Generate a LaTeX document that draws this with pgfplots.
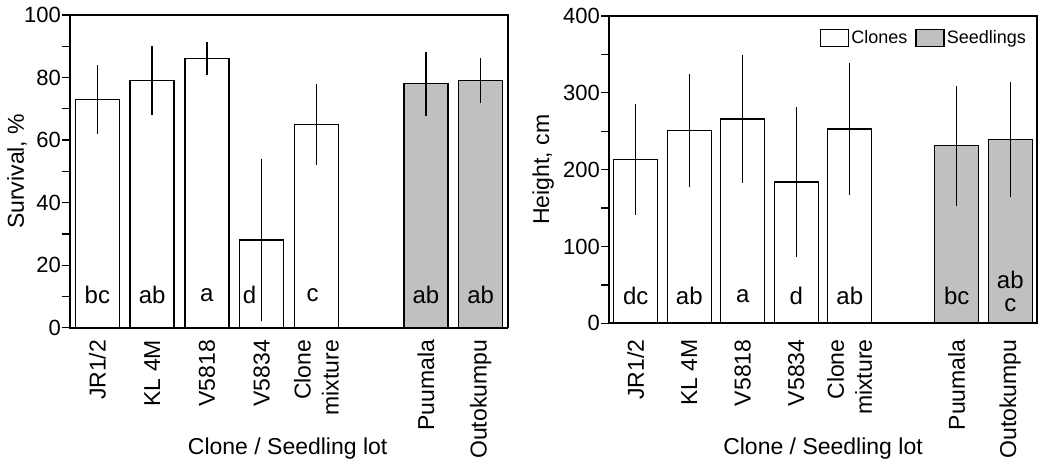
\documentclass[border=0pt]{standalone}
\usepackage{fontspec}
\setmainfont{Liberation Sans}
\usepackage{pgfplots}
\pgfplotsset{compat=1.18}
\usepackage{pgfplotstable}
\definecolor{seedgray}{RGB}{192,192,192}

\pgfplotstableread{
x y e
0 73 11
1 79 11
2 86 5.3
3 28 26
4 65 13
}\survclones
\pgfplotstableread{
x y e
6 78 10.3
7 79 7.2
}\survseed
\pgfplotstableread{
x y e
0 213 72
1 251 74
2 266 83
3 184 98
4 253 86
}\heightclones
\pgfplotstableread{
x y e
6 231 78
7 239 75
}\heightseed

\tikzset{letter/.style={font=\fontsize{24bp}{28bp}\selectfont, inner sep=0pt}}

\pgfplotsset{
  mylegend/.style={legend image code/.code={\draw[##1,line width=1.3bp] (0bp,-8.5bp) rectangle (28bp,8.5bp);}},
  mybars/.style={ybar, bar shift=0pt, bar width=44bp, draw=black, line width=1.3bp,
     error bars/y dir=both, error bars/y explicit, error bars/error mark=none,
     error bars/error bar style={line width=1.3bp, black}},
  common/.style={
    anchor=south west, scale only axis,
    xmin=-0.5, xmax=7.5, ymin=0,
    xtick={0,1,2,3,4,6,7},
    xticklabels={JR1/2, KL 4M, V5818, V5834, {Clone\\mixture}, Puumala, Outokumpu},
    x tick label style={rotate=90, anchor=east, align=right, inner sep=0pt,
       font=\fontsize{23bp}{28bp}\selectfont},
    major x tick style={draw=none},
    ytick pos=left, xtick pos=bottom,
    minor y tick num=1,
    tick align=outside, major tick length=8bp, minor tick length=8bp,
    tick style={line width=1.3bp, black},
    y tick label style={font=\fontsize{22bp}{24bp}\selectfont, inner sep=1bp},
    /pgf/number format/assume math mode=true,
    axis line style={line width=1.3bp},
    label style={font=\fontsize{23bp}{28bp}\selectfont},
    xlabel={Clone / Seedling lot},
    clip=false,
  },
}

\begin{document}
\begin{tikzpicture}
\path[use as bounding box] (0bp,0bp) rectangle (1038bp,462bp);

% Left panel: Survival
\begin{axis}[common,
  at={(70bp,134.3bp)}, width=438bp, height=312.7bp,
  ymax=100, ytick={0,20,40,60,80,100},
  xticklabel shift=4bp,
  ylabel={Survival, \%},
  ylabel style={at={(axis description cs:-0.121,0.5)}, anchor=center},
  xlabel style={at={(axis description cs:0.497,-0.385)}, anchor=center},
]
\addplot[mybars, fill=white] table[x=x, y=y, y error=e] {\survclones};
\addplot[mybars, fill=seedgray] table[x=x, y=y, y error=e] {\survseed};
\draw[line width=2bp] (rel axis cs:0,1) -- (rel axis cs:0,0) -- (rel axis cs:1,0);
\node[letter] at (axis cs:0,10.5) {bc};
\node[letter] at (axis cs:1,10.5) {ab};
\node[letter] at (axis cs:2,10.5) {a};
\node[letter] at (axis cs:2.78,10.5) {d};
\node[letter] at (axis cs:3.93,10.5) {c};
\node[letter] at (axis cs:6,10.5) {ab};
\node[letter] at (axis cs:7,10.5) {ab};
\end{axis}

% Right panel: Height
\begin{axis}[common,
  at={(609bp,138.7bp)}, width=428bp, height=307.3bp,
  ymax=400, ytick={0,100,200,300,400},
  xticklabel shift=8bp,
  ylabel={Height, cm},
  ylabel style={at={(axis description cs:-0.154,0.5)}, anchor=center},
  xlabel style={at={(axis description cs:0.5,-0.406)}, anchor=center},
  legend style={draw=none, fill=none, legend columns=-1,
     at={(axis description cs:0.986,0.965)}, anchor=north east,
     font=\fontsize{18bp}{18bp}\selectfont,
     nodes={inner sep=2bp},
     /tikz/every even column/.append style={column sep=6bp}},
]
\addplot[mybars, fill=white, mylegend] table[x=x, y=y, y error=e] {\heightclones};
\addlegendentry{Clones}
\addplot[mybars, fill=seedgray, mylegend] table[x=x, y=y, y error=e] {\heightseed};
\addlegendentry{Seedlings}
\draw[line width=2bp] (rel axis cs:0,1) -- (rel axis cs:0,0) -- (rel axis cs:1,0);
\node[letter] at (axis cs:0,35.5) {dc};
\node[letter] at (axis cs:1,35.5) {ab};
\node[letter] at (axis cs:2,35.5) {a};
\node[letter] at (axis cs:3,35.5) {d};
\node[letter] at (axis cs:4,35.5) {ab};
\node[letter] at (axis cs:6,35.5) {bc};
\node[letter] at (axis cs:7,56) {ab};
\node[letter] at (axis cs:7,23) {c};
\end{axis}
\end{tikzpicture}
\end{document}
